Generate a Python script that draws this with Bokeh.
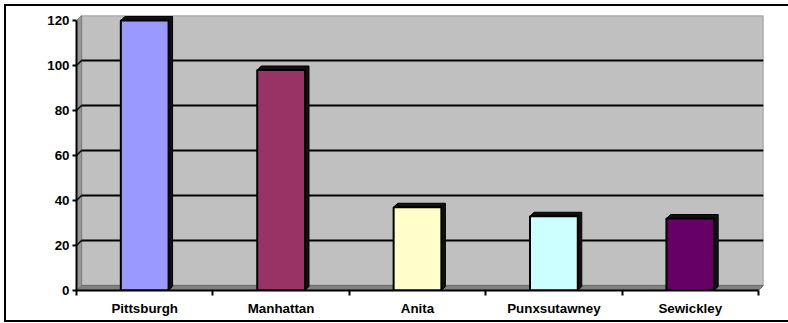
from bokeh.plotting import figure
from bokeh.models import Range1d, FixedTicker, ColumnDataSource, InlineStyleSheet
from bokeh.embed import file_html
from bokeh.resources import INLINE

# Data
cities = ["Pittsburgh", "Manhattan", "Anita", "Punxsutawney", "Sewickley"]
counts = [120, 98, 37, 33, 32]
colors = ["#9999FF", "#993366", "#FFFFCC", "#CCFFFF", "#660066"]
y_ticks = [0, 20, 40, 60, 80, 100, 120]

# Layout geometry (canvas pixels)
W, H = 788, 323
frame_left, frame_right = 76, 763
frame_top, frame_bottom = 15, 290
x_unit = (758 - frame_left) / len(cities)     # px per category slot
y_unit = (frame_bottom - 20) / 120            # px per count unit
x_end = (frame_right - frame_left) / x_unit
y_end = (frame_bottom - frame_top) / y_unit

WALL_DEPTH = 5   # px, depth of the back wall / floor
BAR_DEPTH = 4    # px, depth of each 3-D bar
BAR_WIDTH = 0.35
FONT = "Liberation Sans"

p = figure(width=W, height=H,
           x_range=Range1d(0, x_end), y_range=Range1d(0, y_end),
           output_backend="svg", toolbar_location=None,
           min_border_left=frame_left, min_border_right=W - frame_right,
           min_border_top=frame_top, min_border_bottom=H - frame_bottom)
p.xgrid.visible = False
p.ygrid.visible = False
p.outline_line_color = None
p.background_fill_color = "white"
p.border_fill_color = "white"

# Thin frame around the whole chart area (open on the right edge)
p.stylesheets = [InlineStyleSheet(css="""
:host::after {
  content: "";
  position: absolute;
  left: 4px; top: 4px; right: 0; bottom: 1px;
  border: 2px solid black;
  border-right: none;
  pointer-events: none;
  z-index: 10;
}
""")]

n = len(cities)
wdx, wdy = WALL_DEPTH / x_unit, WALL_DEPTH / y_unit
ymax = y_ticks[-1]

# Back wall
p.quad(left=wdx, right=n + wdx, bottom=wdy, top=ymax + wdy,
       fill_color="#C0C0C0", line_color="#8C8C8C", line_width=1.5)
# Side wall (left)
p.patch([0, 0, wdx, wdx], [0, ymax, ymax + wdy, wdy],
        fill_color="#969696", line_color="#808080", line_width=1)
# Floor
p.patch([0, n, n + wdx, wdx], [0, 0, wdy, wdy],
        fill_color="#808080", line_color="#707070", line_width=1)

# Gridlines on the wall plus their short run across the side wall
grid_vals = [v for v in y_ticks if 0 < v < ymax]
p.segment(x0=[wdx] * len(grid_vals), y0=[v + wdy for v in grid_vals],
          x1=[n + wdx] * len(grid_vals), y1=[v + wdy for v in grid_vals],
          line_color="black", line_width=2)
p.segment(x0=[0] * len(grid_vals), y0=grid_vals,
          x1=[wdx] * len(grid_vals), y1=[v + wdy for v in grid_vals],
          line_color="black", line_width=1.5)

# Bars: front faces from the data, depth faces built from the same values
centers = [i + 0.5 for i in range(n)]
src = ColumnDataSource(dict(x=centers, top=counts, color=colors, city=cities))
bdx, bdy = BAR_DEPTH / x_unit, BAR_DEPTH / y_unit
depth_xs, depth_ys = [], []
for c, v in zip(centers, counts):
    l, r = c - BAR_WIDTH / 2, c + BAR_WIDTH / 2
    depth_xs.append([l, l + bdx, r + bdx, r + bdx, r])
    depth_ys.append([v, v + bdy, v + bdy, bdy, 0])
p.patches(depth_xs, depth_ys, fill_color="#111111", line_color="black", line_width=1)
p.vbar(x="x", top="top", bottom=0, width=BAR_WIDTH, source=src,
       fill_color="color", line_color="black", line_width=2)

# Value axis
ya = p.yaxis[0]
ya.ticker = FixedTicker(ticks=y_ticks)
ya.bounds = (0, ymax)
ya.axis_line_width = 2
ya.axis_line_color = "black"
ya.major_tick_out = 4
ya.major_tick_in = 0
ya.major_tick_line_width = 2
ya.minor_tick_line_color = None
ya.major_label_standoff = 3
ya.major_label_text_font = FONT
ya.major_label_text_font_style = "bold"
ya.major_label_text_font_size = "10pt"
ya.major_label_text_color = "black"

# Category axis: labels centred in each slot, ticks on slot boundaries
xa = p.xaxis[0]
xa.ticker = FixedTicker(ticks=centers, minor_ticks=list(range(n + 1)))
xa.bounds = (0, n)
xa.major_label_overrides = {c: name for c, name in zip(centers, cities)}
xa.axis_line_width = 2
xa.axis_line_color = "black"
xa.major_tick_out = 0
xa.major_tick_in = 0
xa.minor_tick_out = 5
xa.minor_tick_in = 0
xa.minor_tick_line_width = 2
xa.minor_tick_line_color = "black"
xa.major_label_standoff = 5
xa.major_label_text_font = FONT
xa.major_label_text_font_style = "bold"
xa.major_label_text_font_size = "10pt"
xa.major_label_text_color = "black"

open("out.html", "w").write(file_html(p, INLINE))
